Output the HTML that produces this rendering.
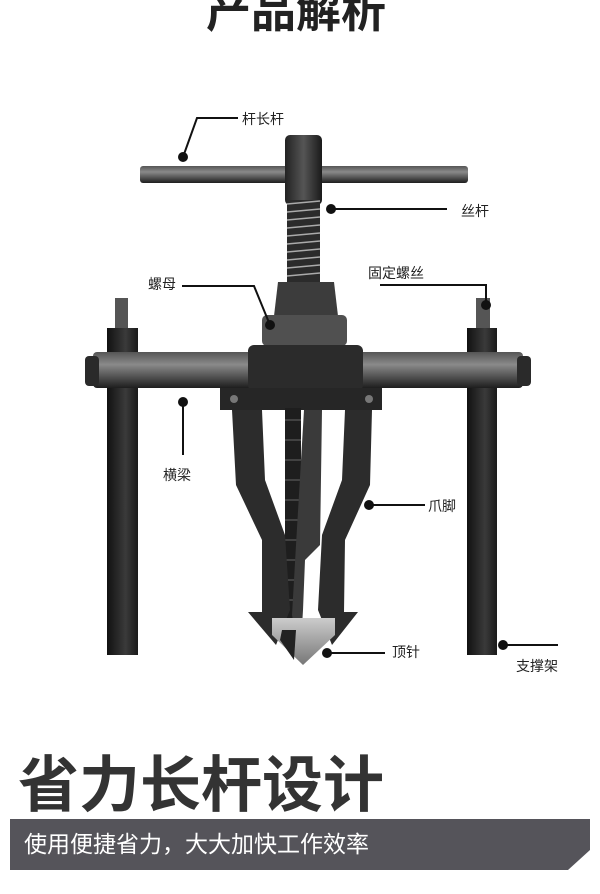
<!DOCTYPE html>
<html><head><meta charset="utf-8"><style>
html,body{margin:0;padding:0;background:#fff;}
body{width:600px;height:894px;overflow:hidden;position:relative;font-family:"Liberation Sans","Noto Sans CJK SC",sans-serif;}
svg{position:absolute;left:0;top:0;}
</style></head><body>
<svg width="600" height="894" viewBox="0 0 600 894" xmlns="http://www.w3.org/2000/svg">
<defs>
<linearGradient id="bar" x1="0" y1="0" x2="0" y2="1"><stop offset="0" stop-color="#555"/><stop offset="0.35" stop-color="#8a8a8a"/><stop offset="1" stop-color="#1e1e1e"/></linearGradient>
<linearGradient id="vert" x1="0" y1="0" x2="1" y2="0"><stop offset="0" stop-color="#222"/><stop offset="0.5" stop-color="#555"/><stop offset="1" stop-color="#1a1a1a"/></linearGradient>
<linearGradient id="leg" x1="0" y1="0" x2="1" y2="0"><stop offset="0" stop-color="#111"/><stop offset="0.6" stop-color="#3a3a3a"/><stop offset="1" stop-color="#1a1a1a"/></linearGradient>
<linearGradient id="cone" x1="0" y1="0" x2="0" y2="1"><stop offset="0" stop-color="#ccc"/><stop offset="1" stop-color="#777"/></linearGradient>
</defs>
<text x="296" y="27" text-anchor="middle" font-size="45" font-weight="bold" fill="#222">产品解析</text>

<rect x="115" y="298" width="13" height="32" fill="#555"/>
<rect x="107" y="328" width="31" height="327" fill="url(#leg)"/>
<rect x="476" y="298" width="14" height="32" fill="#555"/>
<rect x="467" y="328" width="30" height="327" fill="url(#leg)"/>
<rect x="93" y="352" width="430" height="36" rx="4" fill="url(#bar)"/>
<rect x="85" y="356" width="14" height="30" rx="4" fill="#2a2a2a"/>
<rect x="517" y="356" width="14" height="30" rx="4" fill="#2a2a2a"/>
<rect x="140" y="166" width="328" height="17" rx="3" fill="url(#bar)"/>
<rect x="285" y="135" width="37" height="70" rx="5" fill="url(#vert)"/>
<rect x="287" y="200" width="33" height="82" fill="#2b2b2b"/>
<g stroke="#aaa" stroke-width="1.5">
<line x1="287" y1="204" x2="320" y2="201"/><line x1="287" y1="212" x2="320" y2="209"/><line x1="287" y1="220" x2="320" y2="217"/><line x1="287" y1="228" x2="320" y2="225"/><line x1="287" y1="236" x2="320" y2="233"/><line x1="287" y1="244" x2="320" y2="241"/><line x1="287" y1="252" x2="320" y2="249"/><line x1="287" y1="260" x2="320" y2="257"/><line x1="287" y1="268" x2="320" y2="265"/><line x1="287" y1="276" x2="320" y2="273"/>
</g>
<path d="M278 282 L334 282 L338 316 L274 316 Z" fill="#3c3c3c"/>
<rect x="262" y="315" width="85" height="31" rx="5" fill="#505050"/>
<rect x="248" y="345" width="115" height="46" rx="6" fill="#2b2b2b"/>
<rect x="220" y="388" width="162" height="22" fill="#262626"/>
<circle cx="234" cy="399" r="4" fill="#777"/><circle cx="369" cy="399" r="4" fill="#777"/>
<rect x="285" y="408" width="16" height="210" fill="#1e1e1e"/>
<g stroke="#666" stroke-width="1"><line x1="285" y1="420" x2="301" y2="420"/><line x1="285" y1="440" x2="301" y2="440"/><line x1="285" y1="460" x2="301" y2="460"/><line x1="285" y1="480" x2="301" y2="480"/><line x1="285" y1="500" x2="301" y2="500"/><line x1="285" y1="520" x2="301" y2="520"/><line x1="285" y1="540" x2="301" y2="540"/><line x1="285" y1="560" x2="301" y2="560"/><line x1="285" y1="580" x2="301" y2="580"/><line x1="285" y1="600" x2="301" y2="600"/></g>
<path d="M232 410 L262 410 L265 480 L285 535 L290 610 L276 645 L248 612 L262 612 L262 540 L236 485 Z" fill="#2c2c2c"/>
<path d="M304 410 L322 410 L320 545 L305 560 L303 610 L300 660 L292 615 L296 545 Z" fill="#3a3a3a"/>
<path d="M345 410 L372 410 L370 485 L345 540 L344 612 L358 612 L332 645 L318 610 L322 535 L342 480 Z" fill="#2c2c2c"/>
<path d="M272 618 L335 618 L335 635 L303 665 L272 635 Z" fill="url(#cone)"/>
<path d="M282 630 L296 630 L294 660 L280 640 Z" fill="#222"/>

<g stroke="#111" stroke-width="2" fill="none">
<polyline points="183,157 197,118 238,118"/>
<line x1="331" y1="209" x2="447" y2="209"/>
<polyline points="182,286 254,286 270,325"/>
<polyline points="380,285 486,285 486,305"/>
<line x1="183" y1="402" x2="183" y2="455"/>
<line x1="369" y1="505" x2="425" y2="505"/>
<line x1="327" y1="653" x2="385" y2="653"/>
<line x1="503" y1="645" x2="558" y2="645"/>
</g>
<g fill="#111">
<circle cx="183" cy="157" r="5"/><circle cx="331" cy="209" r="5"/><circle cx="270" cy="325" r="5"/><circle cx="486" cy="305" r="5"/><circle cx="183" cy="402" r="5"/><circle cx="369" cy="505" r="5"/><circle cx="327" cy="653" r="5"/><circle cx="503" cy="645" r="5"/>
</g>
<g font-size="14" fill="#222">
<text x="242" y="124">杆长杆</text>
<text x="461" y="216">丝杆</text>
<text x="148" y="289">螺母</text>
<text x="368" y="278">固定螺丝</text>
<text x="163" y="480">横梁</text>
<text x="428" y="511">爪脚</text>
<text x="392" y="657">顶针</text>
<text x="516" y="671">支撑架</text>
</g>

<text x="18" y="806" font-size="61" font-weight="bold" fill="#333">省力长杆设计</text>
<path d="M10 819 L590 819 L590 850 L568 870 L10 870 Z" fill="#55545a"/>
<text x="24" y="852" font-size="23" fill="#fff">使用便捷省力，大大加快工作效率</text>
</svg>
</body></html>
